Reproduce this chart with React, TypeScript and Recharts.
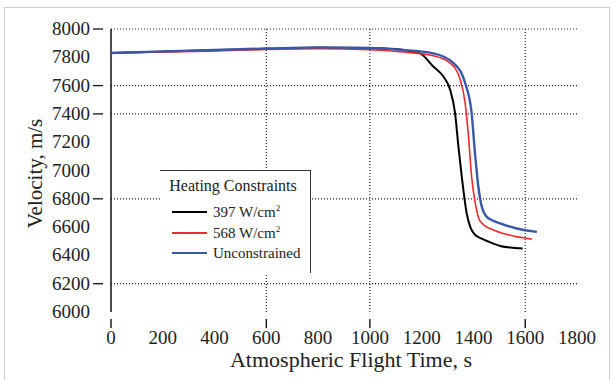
import React from 'react'
import { LineChart, Line, XAxis, YAxis, ReferenceLine, Label } from 'recharts'

const timeA = [0, 200, 400, 600, 800, 1000, 1100, 1150, 1194, 1245, 1284, 1310, 1329, 1342, 1355, 1374, 1388, 1405, 1430, 1460, 1503, 1590]
const velA = [7830, 7840, 7850, 7860, 7868, 7866, 7858, 7845, 7828, 7735, 7664, 7570, 7405, 7168, 6955, 6696, 6600, 6548, 6520, 6496, 6467, 6448]

const timeB = [0, 200, 400, 600, 800, 1000, 1117, 1245, 1310, 1349, 1368, 1381, 1393, 1408, 1420, 1438, 1464, 1542, 1625]
const velB = [7830, 7838, 7845, 7855, 7860, 7853, 7839, 7811, 7759, 7641, 7476, 7239, 6955, 6760, 6665, 6618, 6590, 6542, 6515]

const timeC = [0, 200, 400, 600, 800, 1000, 1117, 1245, 1323, 1368, 1393, 1406, 1419, 1432, 1448, 1470, 1500, 1567, 1645]
const velC = [7830, 7842, 7852, 7862, 7870, 7866, 7853, 7828, 7759, 7617, 7405, 7121, 6885, 6745, 6680, 6650, 6628, 6590, 6566]

const xTicks = [0, 200, 400, 600, 800, 1000, 1200, 1400, 1600, 1800]
const yTicks = [6000, 6200, 6400, 6600, 6800, 7000, 7200, 7400, 7600, 7800, 8000]
const yGrid = [8000, 7600, 7400, 6800, 6200]
const xGrid = [600, 1000, 1600]

const series = [
  { name: '397 W/cm', sup: '2', color: '#000000', width: 2, t: timeA, v: velA },
  { name: '568 W/cm', sup: '2', color: '#ee2a2e', width: 1.6, t: timeB, v: velB },
  { name: 'Unconstrained', sup: '', color: '#3a58aa', width: 2.4, t: timeC, v: velC },
]

const font = '"Liberation Serif", "DejaVu Serif", serif'

const YTick = (props: any) => {
  const { x, y, payload } = props
  const marked = yGrid.includes(payload.value)
  return (
    <g>
      {marked && <line x1={x - 10} x2={x} y1={y} y2={y} stroke="#111" strokeWidth={1.3} />}
      <text x={x - 13} y={y} dy={6} textAnchor="end" fontSize={19} fill="#222" fontFamily={font}>
        {payload.value}
      </text>
    </g>
  )
}

const XTick = (props: any) => {
  const { x, y, payload } = props
  const marked = xGrid.includes(payload.value) || payload.value === 0
  return (
    <g>
      {marked && <line x1={x} x2={x} y1={y - 1} y2={y + 8} stroke="#111" strokeWidth={1.4} />}
      <text x={x} y={y} dy={24} textAnchor="middle" fontSize={19} fill="#222" fontFamily={font}>
        {payload.value}
      </text>
    </g>
  )
}

const LegendBox = () => (
  <div
    style={{
      position: 'absolute',
      left: 160,
      top: 170,
      width: 151,
      height: 103,
      background: '#fff',
      borderTop: '1.5px solid #333',
      borderRight: '1.5px solid #333',
      boxSizing: 'border-box',
      fontFamily: font,
      color: '#222',
    }}
  >
    <div style={{ fontSize: 16, textAlign: 'center', paddingTop: 6, marginLeft: -4 }}>Heating Constraints</div>
    <div style={{ marginTop: 7 }}>
      {series.map((s) => (
        <div key={s.name} style={{ display: 'flex', alignItems: 'center', height: 20.5 }}>
          <div style={{ marginLeft: 12, width: 35, height: s.width, background: s.color }} />
          <span style={{ marginLeft: 6, fontSize: 15 }}>
            {s.name}
            {s.sup && <sup style={{ fontSize: 9 }}>{s.sup}</sup>}
          </span>
        </div>
      ))}
    </div>
  </div>
)

export default function App() {
  return (
    <div style={{ position: 'absolute', left: 0, top: 0, width: 614, height: 380, background: '#fff', overflow: 'hidden' }}>
      <div
        style={{
          position: 'absolute',
          left: 4,
          top: 7,
          width: 604,
          height: 400,
          border: '1.5px solid #cfcfcf',
        }}
      />
      <div style={{ position: 'absolute', left: 0, top: 0 }}>
        <LineChart width={614} height={380} margin={{ top: 29, right: 37, bottom: 38, left: 51 }}>
          <XAxis
            type="number"
            dataKey="t"
            domain={[0, 1800]}
            ticks={xTicks}
            axisLine={false}
            tickLine={false}
            tick={<XTick />}
            height={30}
            interval={0}
          >
            <Label
              value="Atmospheric Flight Time, s"
              position="insideBottom"
              offset={-25}
              dx={7}
              style={{ fontSize: 22, fontFamily: font, fill: '#222' }}
            />
          </XAxis>
          <YAxis
            type="number"
            domain={[6000, 8000]}
            ticks={yTicks}
            axisLine={false}
            tickLine={false}
            tick={<YTick />}
            width={60}
            interval={0}
          >
            <Label
              value="Velocity, m/s"
              angle={-90}
              position="insideLeft"
              dx={-21}
              dy={3}
              style={{ fontSize: 21, fontFamily: font, fill: '#222', textAnchor: 'middle' }}
            />
          </YAxis>
          {yGrid.map((v) => (
            <ReferenceLine key={'y' + v} y={v} stroke="#222" strokeWidth={1.2} strokeDasharray="1 2" />
          ))}
          {xGrid.map((v) => (
            <ReferenceLine key={'x' + v} x={v} stroke="#222" strokeWidth={1.2} strokeDasharray="1 2" />
          ))}
          <ReferenceLine
            segment={[{ x: 0, y: 8000 }, { x: 0, y: 6000 }]}
            stroke="#111"
            strokeWidth={1.5}
          />
          {series.map((s) => (
            <Line
              key={s.name}
              data={s.t.map((t, i) => ({ t, v: s.v[i] }))}
              dataKey="v"
              name={s.name}
              type="monotone"
              stroke={s.color}
              strokeWidth={s.width}
              dot={false}
              isAnimationActive={false}
            />
          ))}
        </LineChart>
      </div>
      <LegendBox />
    </div>
  )
}
